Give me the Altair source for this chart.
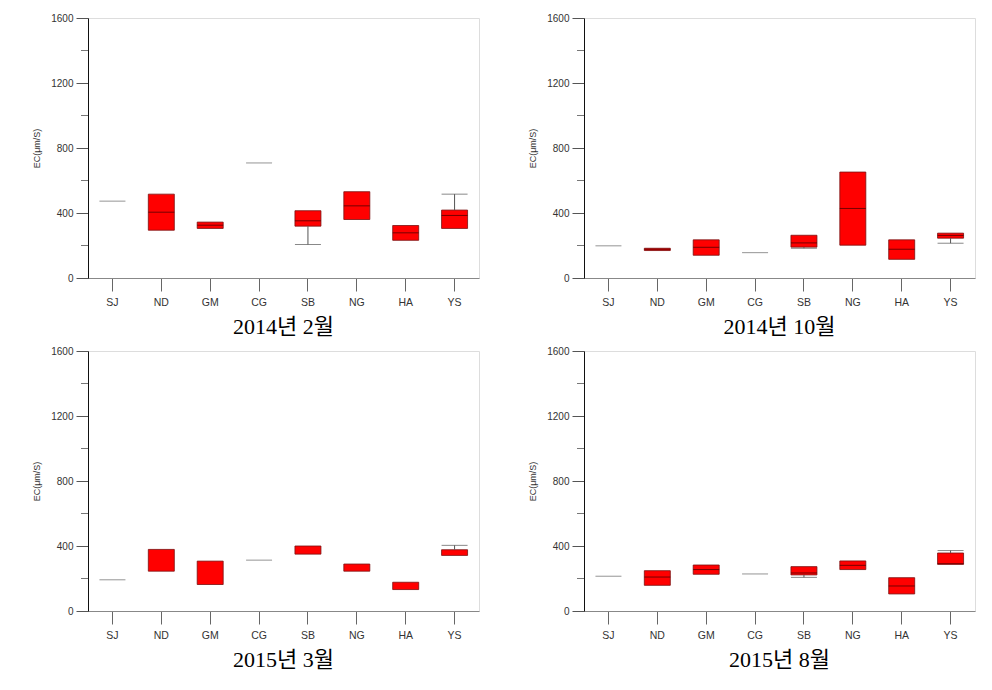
import altair as alt
import pandas as pd

stations = ["SJ", "ND", "GM", "CG", "SB", "NG", "HA", "YS"]
titles = ["2014년  2월", "2014년  10월", "2015년  3월", "2015년  8월"]

# per panel: box bottom (q1), box top (q3), median line, lower whisker, upper whisker
q1_list = [
    [None, 294, 305, None, 319, 360, 232, 305],
    [None, 169, 140, None, 190, 202, 115, 245],
    [None, 245, 163, None, 350, 245, 132, 342],
    [None, 158, 226, None, 222, 255, 105, 287],
]
q3_list = [
    [None, 516, 344, None, 414, 531, 323, 418],
    [None, 183, 235, None, 263, 652, 235, 276],
    [None, 379, 307, None, 400, 289, 177, 377],
    [None, 248, 283, None, 273, 308, 205, 357],
]
med_list = [
    [473, 405, 325, 708, 352, 444, 278, 385],
    [198, 177, 189, 156, 216, 428, 177, 262],
    [192, None, None, 313, None, None, None, None],
    [214, 209, 255, 228, 234, 281, 154, 291],
]
wlo_list = [
    [None, None, None, None, 206, None, None, None],
    [None, None, None, None, 183, None, None, 214],
    [None, None, None, None, None, None, None, None],
    [None, None, None, None, 207, None, None, None],
]
whi_list = [
    [None, None, None, None, None, None, None, 516],
    [None, None, None, None, None, None, None, None],
    [None, None, None, None, None, None, None, 404],
    [None, None, None, None, None, None, None, 372],
]
major_ticks = [0, 400, 800, 1200, 1600]
minor_ticks = [200, 600, 1000, 1400]

W, H = 391, 260
BOX = 26
FONT = "Liberation Sans"


def panel(i):
    boxes = pd.DataFrame(
        [{"st": s, "q1": a, "q3": b} for s, a, b in zip(stations, q1_list[i], q3_list[i]) if a is not None]
    )
    meds = pd.DataFrame(
        [{"st": s, "m": m, "single": q is None} for s, m, q in zip(stations, med_list[i], q1_list[i]) if m is not None]
    )
    wh = []
    for s, lo, hi, a, b in zip(stations, wlo_list[i], whi_list[i], q1_list[i], q3_list[i]):
        if lo is not None:
            wh.append({"st": s, "cap": lo, "edge": a})
        if hi is not None:
            wh.append({"st": s, "cap": hi, "edge": b})
    whd = pd.DataFrame(wh) if wh else pd.DataFrame({"st": [], "cap": [], "edge": []})

    xenc = alt.X(
        "st:N",
        sort=stations,
        scale=alt.Scale(domain=stations, paddingInner=0, paddingOuter=0),
        axis=alt.Axis(
            title=None, labelAngle=0, tickSize=13, labelPadding=6, domainColor="#888",
            tickColor="#666", labelFont=FONT, labelFontSize=10.5, labelColor="#333",
        ),
    )
    yscale = alt.Scale(domain=[0, 1600], nice=False)
    yaxis = alt.Axis(
        title="EC(μm/S)", values=major_ticks, format="d", tickSize=12, labelPadding=3, domainColor="#111",
        tickColor="#555", labelFont=FONT, labelFontSize=10, labelColor="#333",
        titleFont=FONT, titleFontSize=9, titleFontWeight="normal", titleColor="#333",
        titlePadding=9, grid=False,
    )

    base_y = alt.Y("q1:Q", scale=yscale, axis=yaxis)
    bars = alt.Chart(boxes).mark_bar(size=BOX, color="#ff0000", stroke="#7a1010", strokeWidth=0.8).encode(
        x=xenc, y=base_y, y2="q3:Q"
    )
    layers = [bars]
    if len(whd):
        layers.append(
            alt.Chart(whd).mark_rule(color="#555", strokeWidth=1).encode(
                x=alt.X("st:N", sort=stations), y=alt.Y("cap:Q"), y2="edge:Q"
            )
        )
        layers.append(
            alt.Chart(whd).mark_tick(size=BOX, thickness=1, color="#555").encode(
                x=alt.X("st:N", sort=stations), y=alt.Y("cap:Q")
            )
        )
    layers.append(
        alt.Chart(meds).mark_tick(size=BOX, thickness=1).encode(
            x=alt.X("st:N", sort=stations),
            y=alt.Y("m:Q"),
            color=alt.condition("datum.single", alt.value("#666"), alt.value("#3a0000")),
        )
    )
    layers.append(
        alt.Chart(pd.DataFrame({"v": minor_ticks})).mark_rule(color="#777", strokeWidth=1).encode(
            y=alt.Y("v:Q"), x=alt.value(-7), x2=alt.value(0)
        )
    )
    return alt.layer(*layers).properties(
        width=W,
        height=H,
        title=alt.TitleParams(
            titles[i], orient="bottom", anchor="middle", font="Liberation Serif, Noto Sans CJK KR",
            fontSize=22, fontWeight="normal", color="#000", offset=9,
        ),
    )


row1 = alt.hconcat(panel(0), panel(1), spacing=48)
row2 = alt.hconcat(panel(2), panel(3), spacing=48)
chart = (
    alt.vconcat(row1, row2, spacing=7)
    .properties(padding={"left": 24, "top": 4, "right": 5, "bottom": 5})
    .configure_view(stroke="#888", strokeWidth=1)
    .configure(background="white")
)

chart.save("out.html", embed_options={"renderer": "svg", "actions": False})
